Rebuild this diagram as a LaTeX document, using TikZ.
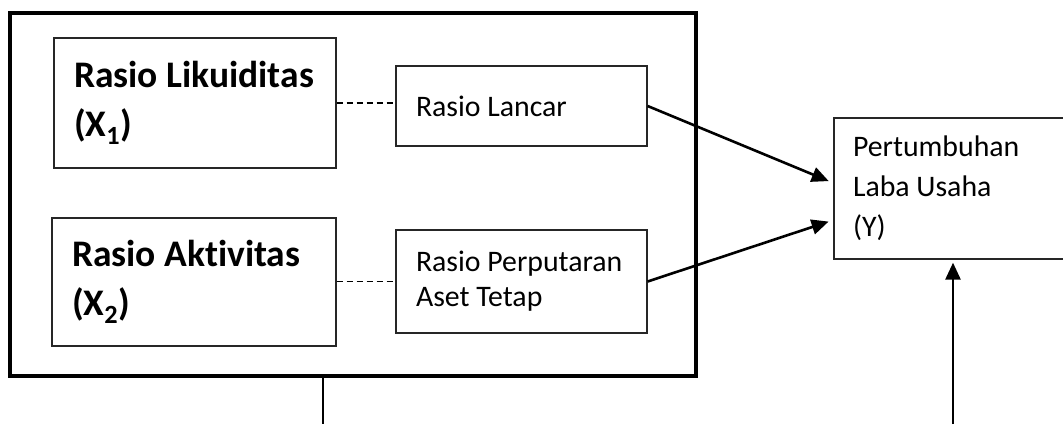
\documentclass[tikz,border=0pt]{standalone}
\usepackage{fontspec}
\setmainfont[Ligatures={NoCommon}]{Carlito}
\usetikzlibrary{arrows.meta,calc}
\tikzset{
  thinbox/.style={draw=black!85, line width=1.3pt, inner xsep=20pt, inner ysep=0pt, align=left,
    execute at begin node={\spaceskip=0.226em\relax}},
  bigtxt/.style={font=\fontsize{37.5}{49}\selectfont\bfseries},
  smalltxt/.style={font=\fontsize{29.8}{35}\selectfont},
  dashlink/.style={line width=1.4pt, dash pattern=on 6pt off 4pt},
  arrowlink/.style={line width=2.6pt, -{Triangle[length=17pt,width=15pt]}, shorten >=5pt},
  plainlink/.style={line width=2.2pt}
}
\begin{document}
\begin{tikzpicture}[x=1pt,y=-1pt]
\useasboundingbox (0,0) rectangle (1063,424);
% outer frame
\node[draw, line width=3.6pt, minimum width=686pt, minimum height=363pt, inner sep=0pt] (outer) at (353,194.5) {};
% left boxes
\node[thinbox, bigtxt, text width=242pt, minimum width=282pt, minimum height=130pt] (X1) at (195,103)
  {Rasio Likuiditas\\(X\textsubscript{1})};
\node[thinbox, bigtxt, text width=244pt, minimum width=284pt, minimum height=128pt] (X2) at (194,282)
  {Rasio Aktivitas\\(X\textsubscript{2})};
% middle boxes
\node[thinbox, smalltxt, text width=211pt, minimum width=251pt, minimum height=80pt] (L) at (521.5,106)
  {Rasio Lancar};
\node[thinbox, smalltxt, text width=211pt, minimum width=251pt, minimum height=103pt] (P) at (521.5,281.5)
  {Rasio Perputaran\\Aset Tetap};
% dependent variable box
\node[thinbox, font=\fontsize{29.8}{40}\selectfont, inner xsep=19pt, text width=228pt, minimum width=266pt, minimum height=141pt] (Y) at (967,188.5)
  {Pertumbuhan\\Laba Usaha\\(Y)};
% dashed links
\draw[dashlink] (X1.east) -- (X1.east -| L.west);
\draw[dashlink] (X2.east |- P.west) -- (P.west);
% arrows into Y
\draw[arrowlink] (L.east) -- ($(Y.west)+(0,-5.5)$);
\draw[arrowlink] (P.east) -- ($(Y.west)+(0,31.5)$);
% bottom lines
\coordinate (lb) at (323,424);
\coordinate (rb) at (953,424);
\draw[plainlink] (outer.south -| lb) -- (lb);
\draw[arrowlink, shorten >=3pt] (rb) -- (rb |- Y.south);
\end{tikzpicture}
\end{document}
